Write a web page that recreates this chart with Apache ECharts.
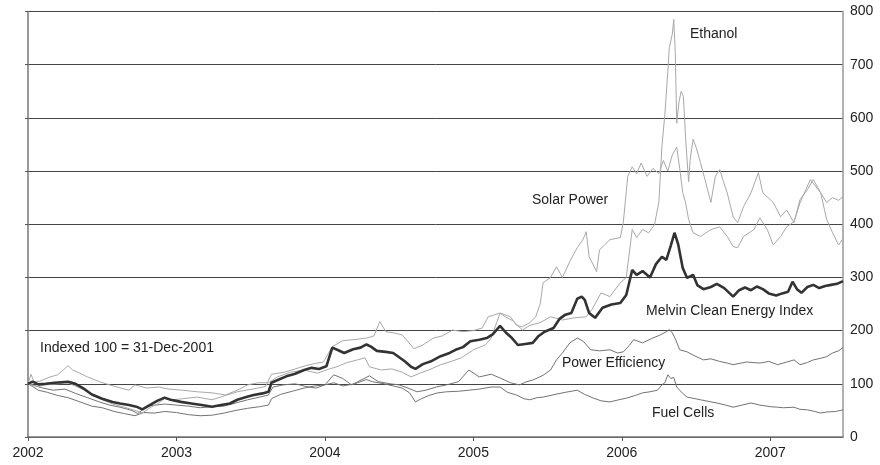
<!DOCTYPE html>
<html>
<head>
<meta charset="utf-8">
<script src="https://cdn.jsdelivr.net/npm/echarts@6/dist/echarts.min.js"></script>
<style>
  html, body { margin: 0; padding: 0; background: #fff; }
  #chart { width: 880px; height: 465px; }
</style>
</head>
<body>
<div id="chart"></div>
<script>
// ── Data: [decimal year, index value] ──
const yearTicks = [2002, 2003, 2004, 2005, 2006, 2007];

const melvin = [
  [2002.00,100],[2002.03,104],[2002.07,99],[2002.12,100],[2002.18,102],[2002.27,104],[2002.32,100],[2002.37,92],
  [2002.43,80],[2002.5,72],[2002.57,66],[2002.62,63],[2002.68,60],[2002.73,57],[2002.77,52],[2002.82,60],
  [2002.87,68],[2002.92,74],[2002.96,70],[2003.03,66],[2003.1,63],[2003.17,60],[2003.24,57],[2003.3,60],
  [2003.36,63],[2003.41,70],[2003.47,75],[2003.52,79],[2003.58,82],[2003.62,85],[2003.64,102],[2003.69,108],
  [2003.74,114],[2003.8,119],[2003.86,126],[2003.91,130],[2003.96,128],[2004.01,133],[2004.05,168],[2004.09,163],
  [2004.13,158],[2004.19,165],[2004.24,168],[2004.28,174],[2004.31,170],[2004.35,162],[2004.41,160],[2004.46,158],
  [2004.5,150],[2004.54,142],[2004.58,132],[2004.61,128],[2004.66,137],[2004.72,143],[2004.78,152],[2004.84,158],
  [2004.88,164],[2004.93,169],[2004.98,180],[2005.04,183],[2005.09,186],[2005.13,193],[2005.18,209],[2005.22,196],
  [2005.26,186],[2005.3,173],[2005.35,175],[2005.4,177],[2005.44,190],[2005.48,198],[2005.54,205],[2005.58,222],
  [2005.62,230],[2005.66,233],[2005.7,260],[2005.73,264],[2005.75,258],[2005.78,233],[2005.82,224],[2005.87,243],
  [2005.93,249],[2005.99,252],[2006.03,267],[2006.07,314],[2006.1,305],[2006.14,312],[2006.19,300],[2006.23,325],
  [2006.27,339],[2006.3,333],[2006.33,360],[2006.355,384],[2006.38,362],[2006.41,318],[2006.44,299],[2006.48,305],
  [2006.51,285],[2006.55,278],[2006.6,282],[2006.64,288],[2006.69,280],[2006.72,272],[2006.75,264],[2006.79,276],
  [2006.83,281],[2006.87,276],[2006.91,283],[2006.95,278],[2006.99,270],[2007.04,266],[2007.08,270],[2007.12,273],
  [2007.15,292],[2007.18,278],[2007.21,271],[2007.25,282],[2007.29,286],[2007.33,280],[2007.37,284],[2007.41,286],
  [2007.45,288],[2007.49,293]
];

const ethanol = [
  [2002.00,100],[2002.02,118],[2002.04,104],[2002.08,105],[2002.14,112],[2002.2,117],[2002.27,134],[2002.3,126],
  [2002.35,120],[2002.4,113],[2002.48,104],[2002.55,98],[2002.6,94],[2002.68,88],[2002.72,98],[2002.8,92],
  [2002.88,94],[2002.95,90],[2003.04,88],[2003.14,85],[2003.24,83],[2003.33,79],[2003.41,88],[2003.48,98],
  [2003.55,102],[2003.62,102],[2003.68,113],[2003.77,122],[2003.86,126],[2003.95,120],[2004.03,128],[2004.08,132],
  [2004.15,140],[2004.22,145],[2004.27,149],[2004.3,132],[2004.38,126],[2004.45,128],[2004.52,122],[2004.58,113],
  [2004.64,120],[2004.7,126],[2004.78,136],[2004.85,142],[2004.92,149],[2005.0,164],[2005.08,173],[2005.12,186],
  [2005.18,233],[2005.22,225],[2005.27,218],[2005.33,201],[2005.38,210],[2005.45,215],[2005.52,226],[2005.6,220],
  [2005.68,224],[2005.76,226],[2005.8,240],[2005.86,271],[2005.92,264],[2005.99,290],[2006.03,300],[2006.07,390],
  [2006.1,375],[2006.14,390],[2006.18,384],[2006.22,399],[2006.25,442],[2006.27,546],[2006.29,606],[2006.31,687],
  [2006.32,732],[2006.34,757],[2006.35,785],[2006.36,725],[2006.37,590],[2006.385,630],[2006.4,650],[2006.415,640],
  [2006.43,560],[2006.45,480],[2006.46,520],[2006.48,560],[2006.5,545],[2006.53,516],[2006.56,484],[2006.6,441],
  [2006.63,490],[2006.66,503],[2006.68,484],[2006.71,459],[2006.75,414],[2006.78,403],[2006.82,433],[2006.87,459],
  [2006.92,497],[2006.95,459],[2007.02,441],[2007.07,414],[2007.11,427],[2007.16,403],[2007.2,446],[2007.25,465],
  [2007.29,484],[2007.34,459],[2007.38,441],[2007.42,450],[2007.46,445],[2007.49,452]
];

const solar = [
  [2002.00,100],[2002.06,95],[2002.12,98],[2002.2,100],[2002.27,102],[2002.35,92],[2002.43,80],[2002.5,70],
  [2002.57,62],[2002.65,56],[2002.72,50],[2002.77,45],[2002.82,55],[2002.87,62],[2002.92,72],[2002.98,70],
  [2003.04,72],[2003.14,75],[2003.24,70],[2003.33,78],[2003.41,85],[2003.51,90],[2003.6,95],[2003.64,118],
  [2003.73,122],[2003.8,128],[2003.87,134],[2003.93,138],[2003.99,141],[2004.05,170],[2004.12,181],[2004.19,183],
  [2004.28,186],[2004.33,190],[2004.37,217],[2004.41,198],[2004.46,196],[2004.52,192],[2004.6,166],[2004.66,173],
  [2004.73,186],[2004.79,190],[2004.86,201],[2004.93,198],[2005.0,200],[2005.06,205],[2005.1,226],[2005.18,233],
  [2005.25,226],[2005.29,210],[2005.33,207],[2005.38,215],[2005.42,226],[2005.45,250],[2005.47,290],[2005.52,300],
  [2005.56,320],[2005.6,300],[2005.65,330],[2005.7,356],[2005.74,372],[2005.76,386],[2005.78,339],[2005.83,311],
  [2005.85,352],[2005.92,371],[2005.99,375],[2006.01,403],[2006.04,490],[2006.07,508],[2006.1,495],[2006.13,515],
  [2006.17,490],[2006.21,505],[2006.25,495],[2006.28,520],[2006.31,500],[2006.34,530],[2006.37,545],[2006.39,505],
  [2006.41,460],[2006.43,440],[2006.45,409],[2006.48,384],[2006.53,377],[2006.6,390],[2006.66,395],[2006.71,377],
  [2006.75,358],[2006.78,356],[2006.82,377],[2006.89,390],[2006.93,412],[2006.98,390],[2007.02,361],[2007.07,377],
  [2007.11,395],[2007.16,405],[2007.2,440],[2007.27,484],[2007.34,459],[2007.38,409],[2007.42,384],[2007.46,361],
  [2007.49,373]
];

const powerEff = [
  [2002.00,100],[2002.04,97],[2002.1,92],[2002.17,88],[2002.25,90],[2002.32,82],[2002.4,74],[2002.48,66],
  [2002.55,60],[2002.62,56],[2002.7,50],[2002.74,44],[2002.8,58],[2002.86,60],[2002.92,62],[2003.0,60],
  [2003.08,58],[2003.16,55],[2003.24,57],[2003.32,58],[2003.4,64],[2003.48,70],[2003.56,75],[2003.62,79],
  [2003.65,94],[2003.72,98],[2003.8,100],[2003.87,95],[2003.94,92],[2004.0,98],[2004.06,117],[2004.12,110],
  [2004.18,98],[2004.25,108],[2004.3,115],[2004.36,104],[2004.44,100],[2004.5,98],[2004.56,92],[2004.62,85],
  [2004.68,88],[2004.75,94],[2004.82,98],[2004.9,104],[2004.97,126],[2005.04,113],[2005.12,118],[2005.18,111],
  [2005.25,102],[2005.31,98],[2005.36,104],[2005.4,107],[2005.47,116],[2005.52,126],[2005.56,145],[2005.6,158],
  [2005.65,177],[2005.7,186],[2005.74,180],[2005.79,164],[2005.85,162],[2005.92,164],[2005.97,158],[2006.01,160],
  [2006.05,172],[2006.08,183],[2006.14,177],[2006.2,185],[2006.26,192],[2006.3,198],[2006.32,202],[2006.34,196],
  [2006.36,185],[2006.39,164],[2006.44,160],[2006.48,154],[2006.55,145],[2006.6,147],[2006.66,142],[2006.71,139],
  [2006.75,136],[2006.84,141],[2006.93,139],[2006.99,142],[2007.05,136],[2007.1,140],[2007.16,145],[2007.2,136],
  [2007.25,140],[2007.29,145],[2007.34,148],[2007.38,151],[2007.42,158],[2007.46,162],[2007.49,168]
];

const fuelCells = [
  [2002.00,100],[2002.03,95],[2002.07,88],[2002.13,84],[2002.2,78],[2002.27,74],[2002.35,66],[2002.43,58],
  [2002.5,55],[2002.58,48],[2002.65,44],[2002.72,40],[2002.78,46],[2002.85,45],[2002.92,48],[2003.0,46],
  [2003.08,42],[2003.16,40],[2003.24,41],[2003.32,45],[2003.4,50],[2003.48,54],[2003.56,57],[2003.62,60],
  [2003.64,72],[2003.7,80],[2003.78,86],[2003.86,92],[2003.93,96],[2004.0,98],[2004.06,102],[2004.12,96],
  [2004.2,100],[2004.28,108],[2004.32,104],[2004.4,100],[2004.46,96],[2004.52,92],[2004.57,83],[2004.61,66],
  [2004.65,72],[2004.7,78],[2004.76,83],[2004.82,85],[2004.9,86],[2004.97,88],[2005.04,90],[2005.12,94],
  [2005.18,94],[2005.23,84],[2005.29,79],[2005.34,72],[2005.38,70],[2005.43,74],[2005.47,75],[2005.55,80],
  [2005.62,84],[2005.7,88],[2005.75,80],[2005.81,73],[2005.86,68],[2005.92,66],[2005.98,70],[2006.03,73],
  [2006.09,78],[2006.14,83],[2006.19,85],[2006.24,88],[2006.27,98],[2006.29,102],[2006.31,117],[2006.33,110],
  [2006.35,112],[2006.37,94],[2006.41,82],[2006.44,75],[2006.53,70],[2006.6,66],[2006.64,64],[2006.7,60],
  [2006.75,56],[2006.81,60],[2006.87,64],[2006.93,60],[2007.0,57],[2007.05,56],[2007.09,55],[2007.16,56],
  [2007.2,52],[2007.25,51],[2007.3,48],[2007.34,45],[2007.38,47],[2007.44,48],[2007.49,51]
];

const FONT = '"Liberation Sans", Arial, Helvetica, sans-serif';
const LIGHT = '#a8a8a8';
const MID = '#737373';
const DARK = '#333333';

const chart = echarts.init(document.getElementById('chart'), null, { renderer: 'canvas' });

function line(name, data, color, width, z) {
  return {
    name, type: 'line', data, z,
    symbol: 'none', smooth: false, animation: false,
    lineStyle: { color, width },
    xAxisIndex: 0, yAxisIndex: 0,
  };
}

chart.setOption({
  animation: false,
  backgroundColor: '#ffffff',
  grid: { left: 28, right: 37, top: 11.5, bottom: 28, containLabel: false },
  xAxis: {
    type: 'value',
    min: yearTicks[0],
    max: 2007.49,
    interval: 1,
    axisLine: { show: true, onZero: false, lineStyle: { color: '#777', width: 1.5 } },
    axisTick: { show: true, length: 4, lineStyle: { color: '#555' } },
    axisLabel: {
      color: '#222', fontFamily: FONT, fontSize: 14, margin: 9,
      showMaxLabel: false,
      formatter: v => (yearTicks.includes(Math.round(v)) && Math.abs(v - Math.round(v)) < 1e-6) ? String(Math.round(v)) : '',
    },
    splitLine: { show: false },
  },
  yAxis: [
    {
      type: 'value', position: 'right', min: 0, max: 800, interval: 100,
      axisLine: { show: true, lineStyle: { color: '#999', width: 1.5 } },
      axisTick: { show: false },
      axisLabel: { color: '#222', fontFamily: FONT, fontSize: 14, margin: 7 },
      splitLine: { show: true, lineStyle: { color: '#444', width: 1 } },
    },
    {
      type: 'value', position: 'left', min: 0, max: 800, interval: 100,
      axisLine: { show: true, lineStyle: { color: '#777', width: 1.5 } },
      axisTick: { show: true, length: 3, lineStyle: { color: '#555' } },
      axisLabel: { show: false },
      splitLine: { show: false },
    },
  ],
  series: [
    line('Fuel Cells', fuelCells, MID, 1, 2),
    line('Power Efficiency', powerEff, MID, 1, 2),
    line('Solar Power', solar, LIGHT, 1, 2),
    line('Ethanol', ethanol, LIGHT, 1, 2),
    line('Melvin Clean Energy Index', melvin, DARK, 2.6, 3),
  ],
  graphic: [
    { type: 'text', left: 690, top: 27, style: { text: 'Ethanol', font: '14px ' + FONT, fill: '#222' } },
    { type: 'text', left: 532, top: 193, style: { text: 'Solar Power', font: '14px ' + FONT, fill: '#222' } },
    { type: 'text', left: 646, top: 304, style: { text: 'Melvin Clean Energy Index', font: '14px ' + FONT, fill: '#222' } },
    { type: 'text', left: 562, top: 356, style: { text: 'Power Efficiency', font: '14px ' + FONT, fill: '#222' } },
    { type: 'text', left: 652, top: 406, style: { text: 'Fuel Cells', font: '14px ' + FONT, fill: '#222' } },
    { type: 'text', left: 40, top: 341, style: { text: 'Indexed 100 = 31-Dec-2001', font: '14px ' + FONT, fill: '#222' } },
  ],
});
</script>
</body>
</html>
